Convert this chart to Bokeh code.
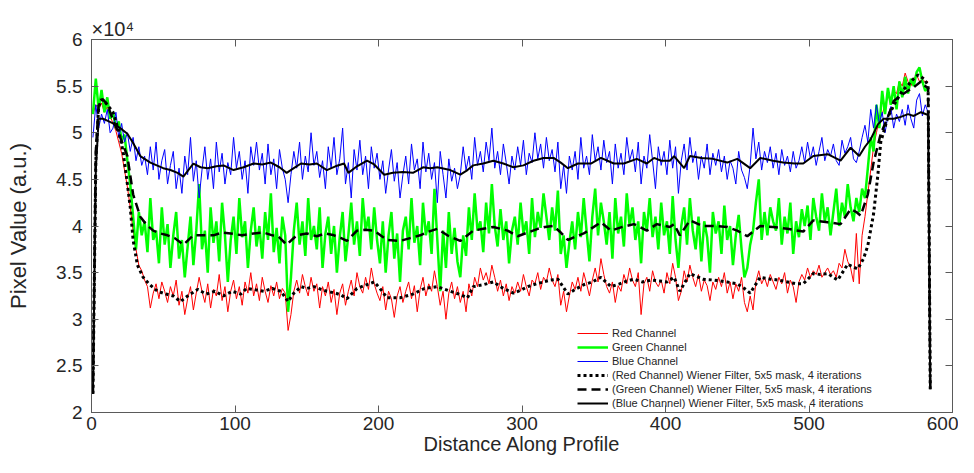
from bokeh.plotting import figure
from bokeh.models import FixedTicker, LinearAxis, CustomJSTickFormatter, Range1d
from bokeh.embed import file_html
from bokeh.resources import INLINE

# ---------------- data (pixel values in units of 1e4) ----------------
x_raw = list(range(1, 584, 2))

red_raw = [
    5.20, 5.30, 5.25, 5.32, 5.22, 5.28, 5.18,
    5.10, 5.02, 4.90, 4.78, 4.60, 4.42, 4.20, 3.95, 3.75, 3.58, 3.52,
    3.42, 3.35, 3.12, 3.28, 3.38, 3.22, 3.40, 3.30, 3.18, 3.35,
    3.25, 3.42, 3.15, 3.30, 3.05, 3.22, 3.35, 3.10, 3.28, 3.45,
    3.30, 3.18, 3.38, 3.12, 3.32, 3.25, 3.48, 3.20, 3.35, 3.08,
    3.30, 3.42, 3.22, 3.35, 3.15, 3.40, 3.28, 3.50, 3.25, 3.38,
    3.20, 3.45, 3.30, 3.18, 3.36, 3.25, 3.40, 3.22, 3.33, 3.28,
    2.88, 3.05, 3.30, 3.42, 3.28, 3.48, 3.35, 3.25, 3.45, 3.30,
    3.38, 3.12, 3.35, 3.25, 3.40, 3.18, 3.32, 3.05, 3.28, 3.38,
    3.15, 3.30, 3.42, 3.25, 3.50, 3.35, 3.28, 3.45, 3.32, 3.55,
    3.38, 3.28, 3.20, 3.35, 3.10, 3.30, 3.22, 3.02, 3.25, 3.35,
    3.18, 3.30, 3.40, 3.22, 3.36, 3.08, 3.32, 3.45, 3.25, 3.38,
    3.30, 3.52, 3.35, 3.15, 3.30, 3.00, 3.28, 3.40, 3.22, 3.35,
    3.18, 3.30, 3.08, 3.38, 3.25, 3.45, 3.35, 3.55, 3.42, 3.50,
    3.38, 3.58, 3.45, 3.30, 3.42, 3.25, 3.38, 3.20, 3.35, 3.28,
    3.40, 3.30, 3.48, 3.35, 3.25, 3.42, 3.38, 3.50, 3.32, 3.45,
    3.40, 3.55, 3.42, 3.35, 3.48, 3.15, 3.30, 3.08, 3.25, 3.40,
    3.32, 3.45, 3.30, 3.50, 3.38, 3.25, 3.42, 3.55, 3.40, 3.65,
    3.48, 3.35, 3.28, 3.40, 3.18, 3.36, 3.30, 3.48, 3.38, 3.55,
    3.42, 3.35, 3.50, 3.05, 3.38, 3.45, 3.30, 3.52, 3.40, 3.35,
    3.42, 3.28, 3.50, 3.38, 3.60, 3.45, 3.20, 3.30, 3.52, 3.40,
    3.58, 3.45, 3.35, 3.48, 3.30, 3.42, 3.36, 3.20, 3.40, 3.32,
    3.45, 3.35, 3.50, 3.28, 3.40, 3.22, 3.38, 3.30, 3.45, 3.18,
    3.08, 3.25, 3.10, 3.40, 3.52, 3.38, 3.45, 3.35, 3.48, 3.40,
    3.32, 3.45, 3.38, 3.50, 3.28, 3.42, 3.35, 3.18, 3.40, 3.48,
    3.42, 3.55, 3.45, 3.52, 3.48, 3.58, 3.45, 3.50, 3.55, 3.48,
    3.52, 3.45, 3.60, 3.55, 3.75, 3.62, 3.55, 3.40, 3.92, 3.38,
    3.90, 4.10, 4.35, 4.60, 4.85, 5.00, 5.15, 5.20, 5.30, 5.38,
    5.35, 5.45, 5.42, 5.55, 5.50, 5.64, 5.55, 5.50, 5.58, 5.62, 5.55, 5.56, 5.55, 5.55,
]

green_raw = [
    5.20, 5.58, 5.25, 5.46, 5.22, 5.38, 5.15,
    5.22, 5.05, 5.12, 4.92, 4.98, 4.70, 4.45, 4.10, 3.75, 4.15, 3.90,
    4.05, 3.72, 4.30, 3.85, 3.95, 3.60, 4.20, 3.80, 4.02, 3.55,
    3.90, 4.15, 3.65, 3.85, 3.45, 3.78, 4.10, 3.58, 3.95, 4.45,
    3.75, 3.95, 3.50, 4.20, 3.82, 4.05, 3.62, 4.25, 3.90, 3.40,
    3.85, 4.10, 3.70, 4.30, 3.88, 4.05, 3.55, 3.95, 4.20, 3.78,
    4.00, 3.65, 4.15, 3.85, 4.35, 3.72, 3.98, 3.60, 4.10, 3.90,
    3.08, 3.45, 3.95, 4.25, 3.80, 4.05, 3.68, 4.30, 3.85, 4.00,
    3.75, 4.20, 3.55, 3.92, 4.10, 3.70, 4.00, 3.50, 3.88, 4.15,
    3.62, 3.90, 4.25, 3.80, 4.05, 3.68, 4.30, 3.95, 4.10, 3.75,
    4.20, 3.85, 3.60, 4.05, 3.50, 3.90, 4.15, 3.65, 3.92, 3.40,
    3.95, 4.10, 3.75, 4.30, 3.82, 4.00, 3.58, 4.25, 3.90, 4.05,
    3.70, 4.40, 3.85, 3.30, 3.95, 3.55, 4.15, 3.70, 3.98, 3.62,
    3.45, 3.90, 3.68, 4.20, 3.85, 4.35, 3.95, 4.05, 3.72, 4.25,
    3.92, 4.45, 4.00, 3.78, 4.18, 3.85, 4.05, 3.60, 3.95, 4.10,
    3.80, 4.25, 3.92, 4.05, 3.70, 4.30, 3.88, 4.15, 3.98, 4.35,
    4.10, 3.85, 4.20, 3.95, 4.38, 3.70, 3.90, 3.55, 3.82, 4.05,
    3.75, 4.15, 3.88, 4.30, 3.95, 3.62, 4.10, 4.40, 3.90, 4.25,
    4.05, 3.80, 4.15, 3.65, 4.30, 3.92, 4.10, 3.78, 4.35, 4.00,
    4.20, 3.85, 4.05, 3.60, 4.15, 3.95, 4.30, 3.88, 4.10, 3.75,
    4.25, 3.90, 4.05, 3.70, 4.32, 3.85, 3.55, 4.00, 4.20, 3.80,
    4.30, 3.95, 3.75, 4.10, 3.62, 4.05, 3.88, 3.50, 4.15, 3.92,
    4.05, 3.70, 4.22, 3.85, 4.00, 3.58, 3.90, 4.12, 3.75, 3.45,
    3.55, 3.80, 3.95, 4.25, 4.50, 3.85, 4.15, 3.90, 4.20, 4.05,
    3.95, 4.30, 3.80, 4.10, 3.92, 4.25, 3.70, 4.05, 3.88, 4.18,
    4.00, 4.22, 3.85, 4.30, 4.10, 3.95, 4.35, 4.05, 4.20, 3.90,
    4.15, 4.40, 4.00, 4.25, 4.10, 4.45, 4.20, 4.05, 4.30, 4.15,
    4.40, 4.30, 4.62, 4.95, 4.80, 5.30, 5.05, 5.45, 5.20, 5.48,
    5.30, 5.50, 5.25, 5.55, 5.38, 5.60, 5.42, 5.58, 5.50, 5.65, 5.70, 5.55, 5.45, 5.48,
]

blue_raw = [
    4.95, 5.30, 5.05, 5.20, 5.10, 5.25, 5.00,
    5.05, 5.22, 4.95, 5.10, 4.90, 5.00, 4.80, 4.95, 4.70, 4.85, 4.65,
    4.75, 4.55, 4.85, 4.60, 4.90, 4.50, 4.70, 4.82, 4.45, 4.65,
    4.80, 4.40, 4.62, 4.35, 4.75, 4.55, 4.95, 4.48, 4.70, 4.30,
    4.60, 4.85, 4.50, 4.72, 4.40, 4.90, 4.58, 4.78, 4.45, 4.68,
    4.55, 4.95, 4.62, 4.80, 4.50, 4.70, 4.35, 4.85, 4.65, 4.90,
    4.60, 4.78, 4.45, 4.88, 4.55, 4.72, 4.40, 4.82, 4.62, 4.50,
    4.25, 4.55, 4.80, 4.62, 4.90, 4.50, 4.75, 4.58, 5.00, 4.65,
    4.80, 4.52, 4.70, 4.40, 4.85, 4.62, 4.95, 4.55, 4.72, 5.05,
    4.45, 4.68, 4.30, 4.82, 4.60, 4.92, 4.55, 4.75, 4.40, 4.85,
    4.62, 4.78, 4.50, 4.70, 4.35, 4.60, 4.82, 4.48, 4.68, 4.30,
    4.55, 4.75, 4.45, 4.88, 4.60, 4.72, 4.40, 4.90, 4.58, 4.78,
    4.50, 4.68, 4.25, 4.80, 4.55, 4.30, 4.72, 4.48, 4.62, 4.40,
    4.55, 4.85, 4.60, 4.75, 4.50, 4.95, 4.65, 4.80, 4.58, 4.90,
    4.70, 5.05, 4.62, 4.80, 4.55, 4.88, 4.68, 4.45, 4.75, 4.60,
    4.85, 4.65, 4.92, 4.55, 4.78, 4.68, 5.00, 4.72, 4.88, 4.62,
    4.95, 4.70, 4.82, 4.58, 4.90, 4.40, 4.65, 4.35, 4.75, 4.60,
    4.80, 4.50, 4.95, 4.62, 4.75, 4.55, 4.98, 4.70, 4.85, 4.60,
    4.92, 4.68, 4.80, 4.45, 4.88, 4.62, 4.78, 4.55, 4.95, 4.70,
    4.82, 4.58, 4.90, 4.45, 4.75, 4.62, 4.98, 4.70, 4.40, 4.85,
    4.65, 4.80, 4.55, 4.92, 4.62, 4.85, 4.35, 4.70, 4.88, 4.60,
    4.95, 4.68, 4.80, 4.50, 4.75, 4.62, 4.88, 4.55, 4.78, 4.65,
    4.82, 4.58, 4.75, 4.50, 4.70, 4.62, 4.45, 4.80, 4.60, 4.52,
    4.40, 4.65, 5.05, 4.72, 4.90, 4.60, 4.80, 4.68, 4.85, 4.62,
    4.78, 4.55, 4.82, 4.65, 4.75, 4.58, 4.80, 4.62, 4.70, 4.85,
    4.68, 4.90, 4.72, 4.85, 4.65, 4.80, 4.95, 4.70, 4.82, 4.75,
    4.88, 4.70, 4.65, 4.92, 4.78, 4.85, 4.95, 4.72, 4.68, 4.80,
    4.95, 5.08, 4.90, 5.25, 5.05, 5.30, 5.10, 5.22, 5.00, 5.18,
    5.28, 5.05, 5.20, 5.12, 5.25, 5.08, 5.30, 5.15, 5.05, 5.35, 5.42, 5.18, 5.30, 5.22,
]

# Wiener-filtered profiles
red_f_x = [1, 3, 5, 7, 10, 15, 19, 22, 25, 27, 29, 32, 36, 40, 46, 52, 57, 62, 67, 74, 80, 86, 92, 98,
           104, 108, 113, 120, 126, 132, 137, 141, 146, 150, 155, 160, 164, 170, 174, 178, 185, 190,
           197, 201, 206, 215, 224, 232, 241, 250, 256, 262, 266, 273, 280, 287, 294, 299, 304, 310,
           315, 320, 325, 332, 337, 343, 349, 355, 362, 368, 373, 378, 384, 390, 396, 401, 406, 410,
           417, 426, 434, 443, 450, 455, 459, 466, 473, 479, 485, 491, 496, 503, 508, 513, 520, 527,
           531, 534, 538, 541, 545, 548, 550, 555, 560, 565, 569, 573, 576, 580, 583, 584.5]
red_f_y = [2.20, 4.70, 5.28, 5.36, 5.32, 5.22, 5.02, 4.80, 4.45, 4.20, 3.85, 3.58, 3.45, 3.38, 3.30,
           3.27, 3.25, 3.19, 3.25, 3.32, 3.27, 3.30, 3.25, 3.30, 3.27, 3.33, 3.32, 3.30, 3.33, 3.30,
           3.19, 3.28, 3.35, 3.33, 3.35, 3.32, 3.30, 3.28, 3.26, 3.22, 3.33, 3.36, 3.40, 3.33, 3.23,
           3.23, 3.27, 3.33, 3.35, 3.30, 3.27, 3.23, 3.35, 3.37, 3.40, 3.33, 3.28, 3.31, 3.35, 3.38,
           3.40, 3.42, 3.43, 3.27, 3.32, 3.37, 3.40, 3.45, 3.35, 3.38, 3.41, 3.43, 3.40, 3.42, 3.41,
           3.40, 3.45, 3.30, 3.49, 3.43, 3.42, 3.40, 3.38, 3.33, 3.28, 3.45, 3.43, 3.42, 3.40, 3.38,
           3.38, 3.49, 3.48, 3.49, 3.42, 3.59, 3.56, 3.54, 3.65, 3.79, 4.13, 4.55, 4.90, 5.17, 5.32,
           5.45, 5.51, 5.58, 5.62, 5.58, 5.51, 2.25]

green_f_x = [1, 3, 5, 8, 11, 15, 20, 25, 29, 34, 38, 43, 48, 53, 58, 64, 71, 78, 85, 91, 97, 105,
             113, 120, 126, 130, 136, 143, 150, 157, 163, 169, 174, 178, 185, 191, 197, 206, 215, 222,
             229, 235, 241, 248, 257, 266, 273, 280, 290, 297, 304, 311, 316, 322, 327, 332, 338, 343,
             349, 355, 362, 370, 378, 387, 394, 403, 406, 410, 417, 426, 435, 443, 450, 457, 466, 475,
             485, 496, 503, 513, 522, 529, 533, 536, 541, 545, 550, 555, 559, 564, 569, 574, 578, 581,
             583, 584.5]
green_f_y = [2.20, 4.80, 5.30, 5.36, 5.30, 5.14, 4.95, 4.75, 4.34, 4.10, 4.02, 3.95, 3.92, 3.90, 3.87,
             3.80, 3.90, 3.90, 3.90, 3.93, 3.92, 3.90, 3.92, 3.93, 3.90, 3.89, 3.80, 3.90, 3.92, 3.89,
             3.92, 3.90, 3.87, 3.84, 3.95, 3.96, 3.95, 3.85, 3.84, 3.87, 3.90, 3.94, 3.97, 3.90, 3.84,
             3.95, 3.97, 3.99, 3.95, 3.89, 3.93, 3.97, 3.99, 4.00, 3.93, 3.85, 3.89, 3.92, 3.98, 4.04,
             3.95, 3.99, 4.02, 3.95, 4.02, 3.99, 4.02, 3.90, 4.06, 4.00, 4.00, 3.99, 3.95, 3.89, 4.00,
             3.99, 3.97, 3.94, 4.06, 4.04, 4.02, 4.18, 4.15, 4.11, 4.34, 4.68, 4.99, 5.17, 5.34, 5.40,
             5.45, 5.50, 5.55, 5.50, 5.48, 2.25]

blue_f_x = [1, 3, 5, 8, 11, 15, 20, 25, 29, 34, 41, 50, 55, 60, 64, 71, 76, 81, 87, 92, 99, 106, 113,
            119, 125, 131, 136, 141, 146, 152, 157, 164, 170, 176, 179, 185, 192, 197, 204, 210, 217,
            224, 231, 236, 241, 250, 257, 262, 266, 273, 280, 287, 294, 301, 308, 315, 322, 327, 332,
            339, 348, 355, 364, 371, 380, 387, 392, 397, 403, 406, 413, 417, 425, 433, 443, 450, 459,
            466, 475, 482, 490, 496, 503, 513, 522, 529, 535, 539, 543, 548, 552, 559, 564, 569, 573,
            578, 583, 584.5]
blue_f_y = [2.20, 4.60, 5.15, 5.15, 5.13, 5.10, 5.05, 4.99, 4.89, 4.75, 4.68, 4.62, 4.60, 4.57, 4.53,
            4.67, 4.63, 4.62, 4.64, 4.65, 4.60, 4.63, 4.67, 4.66, 4.68, 4.63, 4.57, 4.62, 4.67, 4.66,
            4.67, 4.60, 4.64, 4.67, 4.57, 4.64, 4.70, 4.66, 4.55, 4.57, 4.58, 4.57, 4.63, 4.62, 4.63,
            4.60, 4.55, 4.60, 4.65, 4.67, 4.70, 4.67, 4.63, 4.65, 4.70, 4.73, 4.73, 4.68, 4.62, 4.67,
            4.67, 4.73, 4.67, 4.67, 4.72, 4.67, 4.73, 4.70, 4.70, 4.75, 4.62, 4.75, 4.73, 4.72, 4.68,
            4.72, 4.62, 4.73, 4.70, 4.68, 4.67, 4.67, 4.75, 4.77, 4.70, 4.84, 4.75, 4.85, 4.93, 5.09,
            5.15, 5.15, 5.17, 5.20, 5.18, 5.22, 5.19, 2.25]

x_ticks = [0, 100, 200, 300, 400, 500, 600]
y_ticks = [2, 2.5, 3, 3.5, 4, 4.5, 5, 5.5, 6]

labels = ["Red Channel", "Green Channel", "Blue Channel",
          "(Red Channel) Wiener Filter, 5x5 mask, 4 iterations",
          "(Green Channel) Wiener Filter, 5x5 mask, 4 iterations",
          "(Blue Channel) Wiener Filter, 5x5 mask, 4 iterations"]

# ---------------- figure ----------------
FONT = "Liberation Sans"
TXT = "#262626"
AX = "#5a5a5a"

p = figure(width=958, height=457, x_range=Range1d(0, 600), y_range=Range1d(2, 6),
           output_backend="svg", toolbar_location=None,
           min_border_left=91, min_border_right=6, min_border_top=39, min_border_bottom=0,
           background_fill_color="white", border_fill_color="white",
           title="×10⁴")
p.xgrid.visible = False
p.ygrid.visible = False
p.outline_line_color = AX

p.title.align = "left"
p.title.offset = 0
p.title.standoff = 0
p.title.text_font = FONT
p.title.text_font_size = "20px"
p.title.text_font_style = "normal"
p.title.text_color = TXT

n = len(x_raw)
p.line(x_raw[:len(red_raw)], red_raw[:n], line_color="#ff0000", line_width=1, legend_label=labels[0])
p.line(x_raw[:len(green_raw)], green_raw[:n], line_color="#00ff00", line_width=2.5, legend_label=labels[1])
p.line(x_raw[:len(blue_raw)], blue_raw[:n], line_color="#0000ff", line_width=1, legend_label=labels[2])
p.line(red_f_x, red_f_y, line_color="black", line_width=3, line_dash="3 3", legend_label=labels[3])
p.line(green_f_x, green_f_y, line_color="black", line_width=2.5, line_dash="9 5", legend_label=labels[4])
p.line(blue_f_x, blue_f_y, line_color="black", line_width=2, legend_label=labels[5])

for ax in (p.xaxis[0], p.yaxis[0]):
    ax.major_tick_in = 7
    ax.major_tick_out = 0
    ax.minor_tick_line_color = None
    ax.axis_line_color = AX
    ax.major_tick_line_color = AX
    ax.major_label_text_font = FONT
    ax.major_label_text_color = TXT
    ax.major_label_text_font_size = "19px"
    ax.axis_label_text_font = FONT
    ax.axis_label_text_color = TXT
    ax.axis_label_text_font_style = "normal"

p.xaxis[0].ticker = FixedTicker(ticks=x_ticks)
p.yaxis[0].ticker = FixedTicker(ticks=y_ticks)
p.yaxis[0].formatter = CustomJSTickFormatter(code="return String(tick);")
p.xaxis[0].axis_label = "Distance Along Profile"
p.yaxis[0].axis_label = "Pixel Value (a.u.)"
p.xaxis[0].axis_label_text_font_size = "20px"
p.yaxis[0].axis_label_text_font_size = "22px"
p.xaxis[0].major_label_standoff = 4
p.xaxis[0].axis_label_standoff = 0
p.yaxis[0].major_label_standoff = 9
p.yaxis[0].axis_label_standoff = 22

top = LinearAxis(ticker=FixedTicker(ticks=x_ticks), major_label_text_font_size="0px",
                 major_label_text_color=None, major_label_standoff=0, axis_label_standoff=0,
                 major_tick_in=7, major_tick_out=0,
                 minor_tick_line_color=None, axis_line_color=AX, major_tick_line_color=AX)
right = LinearAxis(ticker=FixedTicker(ticks=y_ticks), major_label_text_font_size="0px",
                   major_label_text_color=None, major_label_standoff=0, axis_label_standoff=0,
                   major_tick_in=7, major_tick_out=0,
                   minor_tick_line_color=None, axis_line_color=AX, major_tick_line_color=AX)
p.add_layout(top, "above")
p.add_layout(right, "right")

leg = p.legend[0]
leg.location = (486, 3)
leg.padding = 0
leg.margin = 0
leg.spacing = 2
leg.glyph_width = 31
leg.glyph_height = 12
leg.label_height = 12
leg.label_standoff = 4
leg.label_text_font = FONT
leg.label_text_font_size = "11px"
leg.label_text_color = TXT
leg.border_line_color = None
leg.background_fill_alpha = 0

open("out.html", "w").write(file_html(p, INLINE))
